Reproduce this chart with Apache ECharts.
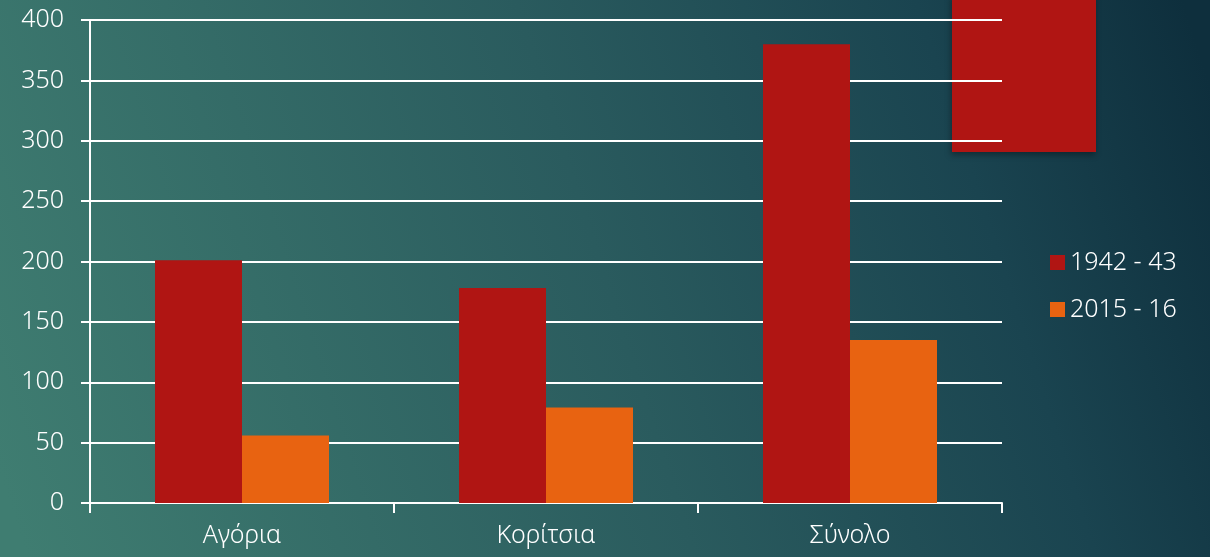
<!DOCTYPE html>
<html>
<head>
<meta charset="utf-8">
<script src="https://cdn.jsdelivr.net/npm/echarts@6/dist/echarts.min.js"></script>
<style>
  html, body { margin: 0; padding: 0; }
  #chart { width: 1210px; height: 557px; }
</style>
</head>
<body>
<div id="chart"></div>
<script>
// categories and values
const categories = ['Αγόρια', 'Κορίτσια', 'Σύνολο'];
const seriesNames = ['1942 - 43', '2015 - 16'];
const values1942 = [201, 178, 380];
const values2015 = [56, 79, 135];
const yTicks = [0, 50, 100, 150, 200, 250, 300, 350, 400];

const chart = echarts.init(document.getElementById('chart'));

const option = {
  backgroundColor: {
    type: 'linear', x: 0, y: 0.85, x2: 1, y2: 0.15,
    colorStops: [
      { offset: 0, color: '#3f7d71' },
      { offset: 0.5, color: '#2a5b5e' },
      { offset: 0.8, color: '#1a4450' },
      { offset: 1, color: '#0e2f3d' }
    ]
  },
  textStyle: { fontFamily: '"Noto Sans", sans-serif', fontWeight: 300 },
  // decorative block from the slide, sits behind the grid lines
  graphic: [{
    type: 'rect',
    z: -10,
    shape: { x: 952, y: -5, width: 144, height: 157 },
    style: {
      fill: '#b01513',
      shadowBlur: 6,
      shadowOffsetX: -1,
      shadowOffsetY: 3,
      shadowColor: 'rgba(0,0,0,0.35)'
    }
  }],
  legend: {
    orient: 'vertical',
    left: 1045,
    top: 244,
    itemWidth: 15,
    itemHeight: 15,
    itemGap: 20,
    icon: 'rect',
    data: seriesNames,
    textStyle: { color: '#ffffff', fontSize: 25, lineHeight: 27, fontWeight: 300 }
  },
  grid: { left: 90, right: 208, top: 20, bottom: 54, containLabel: false },
  xAxis: {
    type: 'category',
    data: categories,
    axisLine: { lineStyle: { color: '#ffffff', width: 2 } },
    axisTick: { show: true, length: 10, lineStyle: { color: '#ffffff', width: 2 } },
    axisLabel: { color: '#ffffff', fontSize: 25, margin: 20, fontWeight: 300 }
  },
  yAxis: {
    type: 'value',
    min: yTicks[0],
    max: yTicks[yTicks.length - 1],
    interval: 50,
    axisLine: { show: true, lineStyle: { color: '#ffffff', width: 2 } },
    axisTick: { show: true, length: 9, lineStyle: { color: '#ffffff', width: 2 } },
    axisLabel: { color: '#ffffff', fontSize: 25, margin: 26, fontWeight: 300 },
    splitLine: { lineStyle: { color: '#ffffff', width: 2 } }
  },
  series: [
    {
      name: seriesNames[0],
      type: 'bar',
      data: values1942,
      barWidth: 87,
      barGap: '0%',
      itemStyle: { color: '#b01513' }
    },
    {
      name: seriesNames[1],
      type: 'bar',
      data: values2015,
      barWidth: 87,
      barGap: '0%',
      itemStyle: { color: '#e86311' }
    }
  ]
};

chart.setOption(option);
</script>
</body>
</html>
